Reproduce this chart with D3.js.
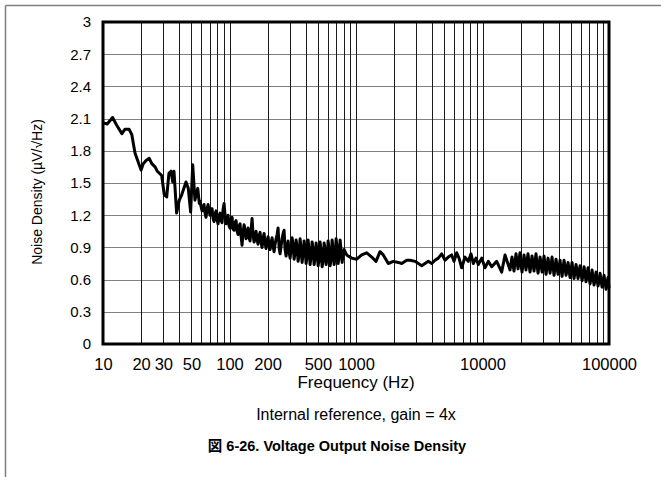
<!DOCTYPE html>
<html><head><meta charset="utf-8">
<script src="https://cdn.jsdelivr.net/npm/d3@7"></script>
<style>
body{margin:0;background:#fff}
svg{display:block}
text{font-family:"Liberation Sans",Arial,"Noto Sans CJK JP",sans-serif;fill:#000}
</style>
</head><body>
<svg id="chart" width="661" height="477"></svg>
<script>
// ---- data ----
const xTickValues = [10, 20, 30, 50, 100, 200, 500, 1000, 10000, 100000];
const xTickLabels = ["10", "20", "30", "50", "100", "200", "500", "1000", "10000", "100000"];
const yTickValues = [0, 0.3, 0.6, 0.9, 1.2, 1.5, 1.8, 2.1, 2.4, 2.7, 3];
const yTickLabels = ["0", "0.3", "0.6", "0.9", "1.2", "1.5", "1.8", "2.1", "2.4", "2.7", "3"];

// 10 Hz .. 58 Hz
const freqLow = [10, 10.8, 11.9, 12.8, 14.1, 14.9, 16.1, 16.9, 17.9, 18.8, 20.0, 20.8, 21.9, 23.2, 24.3, 25.8, 26.9, 29.1, 30.5, 31.9, 33.2, 34.5, 35.6, 36.4, 38.2, 40.1, 41.9, 45.3, 47.2, 49.3, 51.2, 53.3, 56.1, 57.7];
const densLow = [2.06, 2.05, 2.11, 2.04, 1.96, 2.00, 2.00, 1.95, 1.78, 1.71, 1.62, 1.68, 1.71, 1.73, 1.68, 1.65, 1.61, 1.57, 1.39, 1.37, 1.59, 1.61, 1.51, 1.61, 1.22, 1.34, 1.39, 1.51, 1.45, 1.23, 1.67, 1.34, 1.45, 1.31];

// 58 Hz .. 800 Hz (dense noisy band)
const freqBand1 = [58.5, 59.6, 60.7, 61.8, 62.9, 64.1, 65.2, 66.4, 67.7, 68.9,
  70.2, 71.5, 72.8, 74.1, 75.5, 76.9, 78.3, 79.7, 81.2, 82.7,
  84.2, 85.7, 87.3, 88.9, 90.6, 92.2, 93.9, 95.7, 97.4, 99.2,
  101.0, 102.9, 104.8, 106.7, 108.7, 110.7, 112.7, 114.8, 116.9, 119.0,
  121.2, 123.5, 125.7, 128.0, 130.4, 132.8, 135.2, 137.7, 140.2, 142.8,
  145.4, 148.1, 150.8, 153.6, 156.4, 159.3, 162.2, 165.2, 168.2, 171.3,
  174.5, 177.7, 180.9, 184.3, 187.6, 191.1, 194.6, 198.2, 201.8, 205.5,
  209.3, 213.2, 217.1, 221.1, 225.1, 229.3, 233.5, 237.8, 242.1, 246.6,
  251.1, 255.7, 260.4, 265.2, 270.1, 275.1, 280.1, 285.3, 290.5, 295.9,
  301.3, 306.8, 312.5, 318.2, 324.1, 330.0, 336.1, 342.3, 348.6, 355.0,
  361.5, 368.2, 374.9, 381.8, 388.8, 395.9, 403.2, 410.6, 418.2, 425.9,
  433.7, 441.7, 449.8, 458.1, 466.5, 475.0, 483.8, 492.6, 501.7, 510.9,
  520.3, 529.9, 539.6, 549.6, 559.7, 569.9, 580.4, 591.1, 601.9, 613.0,
  624.3, 635.7, 647.4, 659.3, 671.4, 683.8, 696.3, 709.1, 722.2, 735.4,
  749.0, 762.7, 776.8, 791.0, 805.6];
const densBand1 = [1.33, 1.28, 1.24, 1.27, 1.30, 1.22, 1.18, 1.25, 1.30, 1.24,
  1.20, 1.26, 1.26, 1.17, 1.14, 1.21, 1.24, 1.16, 1.12, 1.20,
  1.22, 1.15, 1.13, 1.25, 1.31, 1.20, 1.12, 1.16, 1.20, 1.10,
  1.08, 1.17, 1.18, 1.07, 1.06, 1.13, 1.15, 1.05, 1.02, 1.10,
  1.12, 1.00, 0.92, 1.04, 1.11, 1.06, 0.98, 1.03, 1.08, 0.99,
  0.96, 1.06, 1.17, 1.02, 0.95, 0.99, 1.05, 0.97, 0.93, 1.01,
  1.04, 0.95, 0.90, 0.98, 1.03, 0.94, 0.89, 0.95, 1.00, 0.92,
  0.88, 0.94, 0.99, 0.91, 0.86, 0.93, 0.98, 1.02, 1.08, 0.90,
  0.84, 0.91, 0.98, 1.03, 1.06, 0.88, 0.82, 0.90, 0.96, 0.86,
  0.80, 0.88, 0.99, 0.92, 0.79, 0.85, 0.97, 0.90, 0.77, 0.84,
  0.98, 0.88, 0.76, 0.84, 0.96, 0.89, 0.75, 0.83, 0.97, 0.86,
  0.74, 0.82, 0.95, 0.88, 0.74, 0.80, 0.94, 0.87, 0.73, 0.79,
  0.95, 0.86, 0.72, 0.78, 0.94, 0.88, 0.74, 0.80, 0.96, 0.87,
  0.73, 0.79, 0.97, 0.88, 0.74, 0.81, 0.98, 0.89, 0.75, 0.82,
  0.97, 0.87, 0.76, 0.84, 0.88];

// 800 Hz .. 16.5 kHz
const freqMid = [844, 925, 1013, 1109, 1215, 1331, 1439, 1548, 1643, 1800, 1972, 2160, 2298, 2517, 2673, 2928, 3307, 3512, 3729, 3967, 4212, 4474, 4760, 5053, 5366, 5706, 5953, 6252, 6521, 6848, 7271, 7721, 8111, 8458, 8885, 9265, 9856, 10466, 11112, 11821, 12947, 14188, 15066, 16502];
const densMid = [0.83, 0.80, 0.79, 0.83, 0.85, 0.81, 0.77, 0.86, 0.83, 0.75, 0.77, 0.76, 0.75, 0.78, 0.78, 0.77, 0.73, 0.75, 0.77, 0.75, 0.78, 0.80, 0.84, 0.78, 0.81, 0.83, 0.77, 0.85, 0.80, 0.71, 0.81, 0.77, 0.84, 0.75, 0.80, 0.74, 0.80, 0.71, 0.77, 0.72, 0.77, 0.67, 0.83, 0.69];

// 17 kHz .. 100 kHz (dense noisy band)
const freqBand2 = [17112, 17426, 17747, 18073, 18405, 18744, 19088, 19439, 19796, 20160,
  20530, 20908, 21292, 21683, 22082, 22488, 22901, 23322, 23750, 24187,
  24631, 25084, 25545, 26015, 26493, 26980, 27476, 27981, 28495, 29019,
  29552, 30095, 30648, 31211, 31785, 32369, 32964, 33570, 34187, 34815,
  35455, 36107, 36770, 37446, 38134, 38835, 39549, 40276, 41016, 41770,
  42537, 43319, 44115, 44926, 45752, 46593, 47449, 48321, 49209, 50113,
  51035, 51972, 52928, 53900, 54891, 55900, 56928, 57974, 59040, 60125,
  61230, 62355, 63501, 64668, 65857, 67067, 68300, 69555, 70833, 72135,
  73461, 74811, 76186, 77586, 79012, 80464, 81943, 83449, 84983, 86545,
  88135, 89755, 91405, 93085, 94796, 96538, 98312, 100000];
const densBand2 = [0.81, 0.74, 0.68, 0.76, 0.84, 0.77, 0.70, 0.78, 0.85, 0.74,
  0.67, 0.75, 0.83, 0.76, 0.69, 0.77, 0.84, 0.75, 0.67, 0.74,
  0.82, 0.75, 0.68, 0.77, 0.84, 0.74, 0.66, 0.73, 0.81, 0.75,
  0.67, 0.74, 0.82, 0.73, 0.65, 0.72, 0.80, 0.74, 0.66, 0.73,
  0.81, 0.72, 0.64, 0.71, 0.79, 0.72, 0.65, 0.71, 0.78, 0.70,
  0.63, 0.70, 0.78, 0.71, 0.64, 0.69, 0.76, 0.69, 0.62, 0.69,
  0.76, 0.68, 0.61, 0.67, 0.74, 0.68, 0.61, 0.67, 0.73, 0.66,
  0.59, 0.65, 0.72, 0.65, 0.58, 0.64, 0.71, 0.63, 0.56, 0.62,
  0.69, 0.62, 0.55, 0.60, 0.67, 0.60, 0.54, 0.59, 0.66, 0.59,
  0.53, 0.58, 0.64, 0.57, 0.51, 0.56, 0.62, 0.52];

const xTitle = "Frequency (Hz)";
const yTitle = "Noise Density (µV/√Hz)";
const subTitle = "Internal reference, gain = 4x";
const caption = "図 6-26. Voltage Output Noise Density";

// ---- drawing ----
const svg = d3.select("#chart");
const W = 661, H = 477;
const m = {left: 103, right: 609, top: 22, bottom: 344};

const x = d3.scaleLog().domain([10, 100000]).range([m.left, m.right]);
const y = d3.scaleLinear().domain([0, 3]).range([m.bottom, m.top]);

// outer document frame lines
svg.append("line").attr("x1", 5.5).attr("x2", W).attr("y1", 5.5).attr("y2", 5.5)
  .attr("stroke", "#7f7f7f").attr("stroke-width", 1.5);
svg.append("line").attr("x1", 5.5).attr("x2", 5.5).attr("y1", 5.5).attr("y2", H)
  .attr("stroke", "#7f7f7f").attr("stroke-width", 1.5);

// horizontal grid
svg.append("g").selectAll("line").data(yTickValues).join("line")
  .attr("x1", m.left).attr("x2", m.right)
  .attr("y1", d => Math.round(y(d)) + 0.5).attr("y2", d => Math.round(y(d)) + 0.5)
  .attr("stroke", "#808080").attr("stroke-width", 1);

// vertical grid (log decade lines 1..9)
svg.append("g").selectAll("line").data(x.ticks()).join("line")
  .attr("x1", d => Math.round(x(d)) + 0.5).attr("x2", d => Math.round(x(d)) + 0.5)
  .attr("y1", m.top).attr("y2", m.bottom)
  .attr("stroke", "#1a1a1a").attr("stroke-width", 1);

// data line
const data = [];
[[freqLow, densLow], [freqBand1, densBand1], [freqMid, densMid], [freqBand2, densBand2]].forEach(([f, v]) => {
  f.forEach((fv, i) => data.push({f: fv, v: v[i]}));
});
svg.append("path").datum(data)
  .attr("fill", "none").attr("stroke", "#000").attr("stroke-width", 3)
  .attr("stroke-linejoin", "round")
  .attr("d", d3.line().x(d => x(d.f)).y(d => y(d.v)));

// plot frame
svg.append("rect").attr("x", m.left).attr("y", m.top)
  .attr("width", m.right - m.left).attr("height", m.bottom - m.top)
  .attr("fill", "none").attr("stroke", "#000").attr("stroke-width", 3);

// axes (labels only)
const xAxis = d3.axisBottom(x).tickValues(xTickValues)
  .tickFormat((d, i) => xTickLabels[i]).tickSize(0).tickPadding(14);
const gx = svg.append("g").attr("transform", `translate(0,${m.bottom})`).call(xAxis);
gx.select(".domain").remove();
gx.selectAll("text").style("font-size", "16.5px").attr("fill", "#000");

const yAxis = d3.axisLeft(y).tickValues(yTickValues)
  .tickFormat((d, i) => yTickLabels[i]).tickSize(0).tickPadding(12);
const gy = svg.append("g").attr("transform", `translate(${m.left},0)`).call(yAxis);
gy.select(".domain").remove();
gy.selectAll("text").style("font-size", "15px").attr("fill", "#000");

// titles
svg.append("text").attr("x", 356).attr("y", 388).attr("text-anchor", "middle")
  .style("font-size", "17px").text(xTitle);
svg.append("text").attr("transform", "translate(42,192) rotate(-90)").attr("text-anchor", "middle")
  .style("font-size", "14px").text(yTitle);
svg.append("text").attr("x", 356).attr("y", 420).attr("text-anchor", "middle")
  .style("font-size", "16px").text(subTitle);
svg.append("text").attr("x", 337).attr("y", 451).attr("text-anchor", "middle")
  .style("font-size", "14.5px").style("font-weight", "bold").text(caption);
</script>
</body></html>
